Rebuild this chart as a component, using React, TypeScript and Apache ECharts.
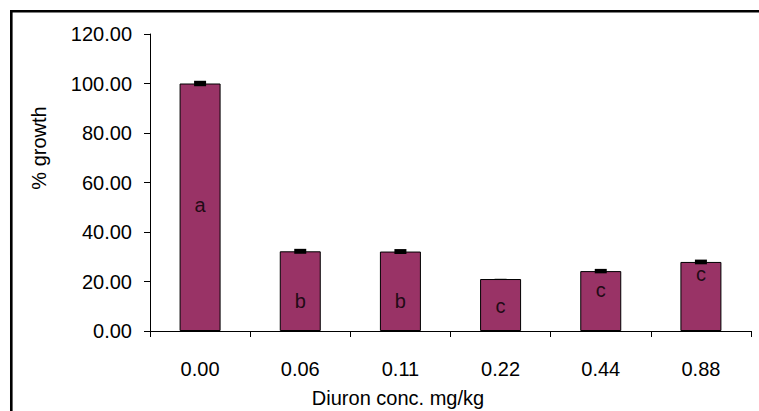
import React, { useEffect, useRef } from "react";
import * as echarts from "echarts";

const categories = ["0.00", "0.06", "0.11", "0.22", "0.44", "0.88"];
const growth = [100, 32.2, 32.1, 21.0, 24.2, 27.9];
const errors = [1.1, 1.0, 1.0, 0.1, 0.9, 0.95];
const letters = ["a", "b", "b", "c", "c", "c"];
const letterPos = [51, 12.1, 12.1, 10.1, 16.6, 23.0];
const yTicks = { min: 0, max: 120, interval: 20 };

const FONT = "'Liberation Sans', Arial, sans-serif";

export default function App() {
  const ref = useRef<HTMLDivElement>(null);
  useEffect(() => {
    if (!ref.current) return;
    const chart = echarts.init(ref.current, undefined, { renderer: "svg" });
    chart.setOption({
      animation: false,
      backgroundColor: "#ffffff",
      textStyle: { fontFamily: FONT },
      grid: { left: 150, right: 8, top: 34, bottom: 80, containLabel: false },
      xAxis: {
        type: "category",
        data: categories,
        boundaryGap: true,
        axisLine: { lineStyle: { color: "#000", width: 1 } },
        axisTick: { show: true, length: 6, alignWithLabel: false, lineStyle: { color: "#000" } },
        axisLabel: { color: "#000", fontSize: 20, fontFamily: FONT, margin: 28 },
        splitLine: { show: false },
      },
      yAxis: {
        type: "value",
        min: yTicks.min,
        max: yTicks.max,
        interval: yTicks.interval,
        axisLine: { show: true, lineStyle: { color: "#000", width: 1 } },
        axisTick: { show: true, length: 6, lineStyle: { color: "#000" } },
        axisLabel: {
          color: "#000",
          fontSize: 20,
          fontFamily: FONT,
          margin: 18,
          formatter: (v: number) => v.toFixed(2),
        },
        splitLine: { show: false },
      },
      graphic: [
        {
          type: "rect",
          shape: { x: 11.3, y: 11.3, width: 900, height: 600 },
          style: { fill: "none", stroke: "#000", lineWidth: 2.6 },
          silent: true,
          z: 100,
        },
        {
          type: "text",
          x: 398,
          y: 398,
          style: {
            text: "Diuron conc. mg/kg",
            fill: "#000",
            font: `20px ${FONT}`,
            textAlign: "center",
            textVerticalAlign: "middle",
          },
        },
        {
          type: "text",
          x: 39,
          y: 148,
          rotation: Math.PI / 2,
          style: {
            text: "% growth",
            fill: "#000",
            font: `20px ${FONT}`,
            textAlign: "center",
            textVerticalAlign: "middle",
          },
        },
      ],
      series: [
        {
          type: "bar",
          data: growth,
          barWidth: 41,
          itemStyle: { color: "#993366", borderColor: "#000", borderWidth: 1 },
          z: 2,
        },
        {
          type: "custom",
          z: 5,
          data: growth.map((v, i) => [i, v, errors[i]]),
          renderItem: (params: any, api: any) => {
            const i = api.value(0);
            const v = api.value(1);
            const e = api.value(2);
            const top = api.coord([i, v + e]);
            const bot = api.coord([i, v - e]);
            return {
              type: "rect",
              shape: { x: top[0] - 6, y: top[1], width: 12, height: Math.max(bot[1] - top[1], 0.6) },
              style: { fill: "#000" },
            };
          },
        },
        {
          type: "scatter",
          data: letterPos.map((v, i) => [i, v]),
          symbolSize: 0,
          z: 6,
          label: {
            show: true,
            position: "inside",
            color: "#000",
            fontSize: 20,
            fontFamily: FONT,
            formatter: (p: any) => letters[p.dataIndex],
          },
        },
      ],
    });
    return () => chart.dispose();
  }, []);
  return (
    <div
      ref={ref}
      style={{ position: "fixed", left: 0, top: 0, width: 759, height: 411 }}
    />
  );
}
